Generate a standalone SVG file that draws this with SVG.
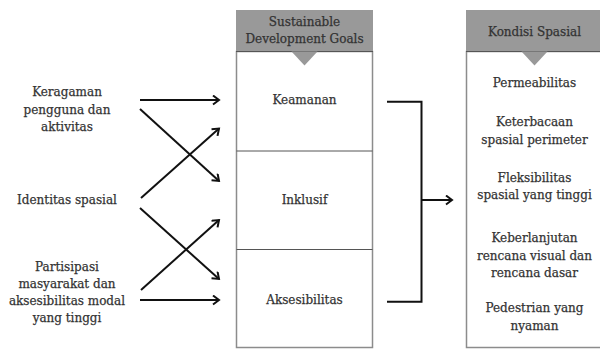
<svg xmlns="http://www.w3.org/2000/svg" width="600" height="349" viewBox="0 0 600 349">
<style>
text{font-family:"DejaVu Serif","Liberation Serif",serif;font-size:12px;fill:#333333;stroke:#333333;stroke-width:0.25;text-anchor:middle}
.hdr{fill:#999999}
.body{fill:#ffffff;stroke:#8c8c8c;stroke-width:1.5}
.sep{stroke:#555555;stroke-width:1.2}
.div{stroke:#555555;stroke-width:1}
.conn{fill:none;stroke:#111111;stroke-width:2}
</style>
<defs>
<marker id="ah" markerUnits="userSpaceOnUse" markerWidth="12" markerHeight="12" refX="8" refY="5" orient="auto">
<path d="M2,0.5 L8,5 L2,9.5" fill="none" stroke="#111111" stroke-width="2"/>
</marker>
</defs>
<rect width="600" height="349" fill="#ffffff"/>
<g id="left-labels">
<g id="src-keragaman">
<text x="67" y="96">Keragaman</text>
<text x="67" y="114">pengguna dan</text>
<text x="67" y="131">aktivitas</text>
</g>
<g id="src-identitas">
<text x="67" y="204">Identitas spasial</text>
</g>
<g id="src-partisipasi">
<text x="67" y="271">Partisipasi</text>
<text x="67" y="288">masyarakat dan</text>
<text x="67" y="305">aksesibilitas modal</text>
<text x="67" y="322">yang tinggi</text>
</g>
</g>
<g id="sdg">
<rect class="body" x="236.5" y="51.5" width="136" height="296"/>
<rect class="hdr" x="236" y="10" width="137" height="41.5"/>
<line class="sep" x1="236" y1="51.5" x2="373" y2="51.5"/>
<polygon class="hdr" points="291.5,51.5 317.5,51.5 304.5,65.5"/>
<line class="div" x1="236.5" y1="151" x2="372.5" y2="151"/>
<line class="div" x1="236.5" y1="249.5" x2="372.5" y2="249.5"/>
<text x="304.5" y="26">Sustainable</text>
<text x="304.5" y="43">Development Goals</text>
<g id="sdg-keamanan"><text x="304.5" y="104">Keamanan</text></g>
<g id="sdg-inklusif"><text x="304.5" y="204">Inklusif</text></g>
<g id="sdg-aksesibilitas"><text x="304.5" y="304">Aksesibilitas</text></g>
</g>
<g id="kondisi">
<rect class="body" x="466.5" y="51.5" width="140" height="296"/>
<rect class="hdr" x="466" y="10" width="140" height="41.5"/>
<line class="sep" x1="466" y1="51.5" x2="606" y2="51.5"/>
<polygon class="hdr" points="521.5,51.5 547.5,51.5 534.5,65.5"/>
<text x="534.5" y="36">Kondisi Spasial</text>
<text x="534.5" y="87">Permeabilitas</text>
<text x="534.5" y="126">Keterbacaan</text>
<text x="534.5" y="144">spasial perimeter</text>
<text x="534.5" y="182">Fleksibilitas</text>
<text x="534.5" y="199">spasial yang tinggi</text>
<text x="534.5" y="242">Keberlanjutan</text>
<text x="534.5" y="260">rencana visual dan</text>
<text x="534.5" y="277">rencana dasar</text>
<text x="534.5" y="312">Pedestrian yang</text>
<text x="534.5" y="330">nyaman</text>
</g>
<g id="connectors">
<line class="conn" x1="140" y1="100" x2="219" y2="100" marker-end="url(#ah)"/>
<line class="conn" x1="140" y1="109" x2="219" y2="181" marker-end="url(#ah)"/>
<line class="conn" x1="141" y1="198" x2="219" y2="128.5" marker-end="url(#ah)"/>
<line class="conn" x1="140" y1="208" x2="219" y2="279" marker-end="url(#ah)"/>
<line class="conn" x1="141" y1="290" x2="219" y2="220" marker-end="url(#ah)"/>
<line class="conn" x1="140" y1="300" x2="219" y2="300" marker-end="url(#ah)"/>
<polyline class="conn" points="387,101.7 421.5,101.7 421.5,301.7 387,301.7"/>
<line class="conn" x1="421.5" y1="200" x2="452" y2="200" marker-end="url(#ah)"/>
</g>
</svg>
